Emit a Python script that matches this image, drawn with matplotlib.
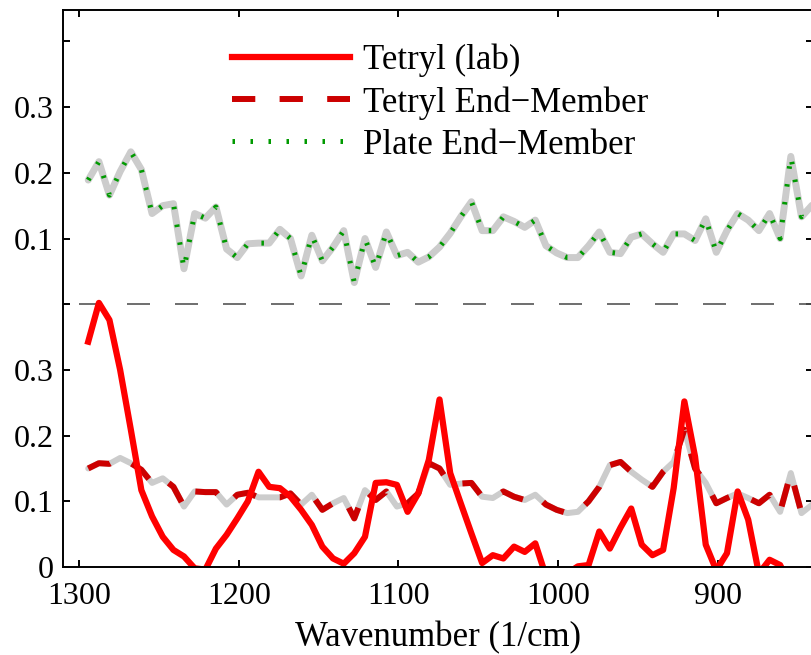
import numpy as np
import matplotlib
matplotlib.use("Agg")
import matplotlib.pyplot as plt

plt.rcParams['font.family'] = ['Liberation Serif', 'DejaVu Serif']

# wavenumber grid (1/cm)
wavenumber = [1294.4, 1287.7, 1281.1, 1274.4, 1267.7, 1261.1, 1254.4, 1247.7, 1241.0, 1234.4,
              1227.7, 1221.0, 1214.4, 1207.7, 1201.0, 1194.4, 1187.7, 1181.0, 1174.3, 1167.7,
              1161.0, 1154.3, 1147.7, 1141.0, 1134.3, 1127.7, 1121.0, 1114.3, 1107.6, 1101.0,
              1094.3, 1087.6, 1081.0, 1074.3, 1067.6, 1061.0, 1054.3, 1047.6, 1040.9, 1034.3,
              1027.6, 1020.9, 1014.3, 1007.6, 1000.9, 994.3, 987.6, 980.9, 974.2, 967.6,
              960.9, 954.2, 947.6, 940.9, 934.2, 927.6, 920.9, 914.2, 907.5, 900.9,
              894.2, 887.5, 880.9, 874.2, 867.5, 860.9, 854.2, 847.5, 840.8]

tetryl_lab = [0.343, 0.402, 0.376, 0.300, 0.209, 0.117, 0.077, 0.046, 0.026, 0.016,
              -0.002, -0.004, 0.028, 0.049, 0.074, 0.100, 0.145, 0.122, 0.120, 0.107,
              0.087, 0.064, 0.031, 0.013, 0.005, 0.021, 0.046, 0.128, 0.129, 0.125,
              0.084, 0.112, 0.163, 0.255, 0.143, 0.097, 0.051, 0.006, 0.018, 0.013,
              0.031, 0.023, 0.036, -0.014, -0.02, -0.01, 0.001, 0.003, 0.054, 0.028,
              0.060, 0.089, 0.034, 0.018, 0.026, 0.120, 0.252, 0.168, 0.034, -0.005,
              0.021, 0.115, 0.072, -0.010, 0.011, 0.003, -0.030, -0.040, -0.030]

tetryl_em = [0.150, 0.158, 0.157, 0.166, 0.158, 0.148, 0.128, 0.135, 0.122, 0.092,
             0.115, 0.114, 0.114, 0.095, 0.110, 0.113, 0.106, 0.106, 0.106, 0.112,
             0.095, 0.110, 0.087, 0.097, 0.105, 0.074, 0.117, 0.102, 0.115, 0.092,
             0.097, 0.112, 0.158, 0.150, 0.125, 0.127, 0.128, 0.107, 0.105, 0.115,
             0.107, 0.102, 0.110, 0.095, 0.087, 0.082, 0.084, 0.100, 0.122, 0.155,
             0.160, 0.145, 0.133, 0.122, 0.145, 0.160, 0.209, 0.150, 0.128, 0.097,
             0.105, 0.112, 0.105, 0.097, 0.110, 0.084, 0.143, 0.082, 0.095]

plate_em = [0.189, 0.217, 0.166, 0.202, 0.232, 0.205, 0.138, 0.150, 0.153, 0.054,
            0.138, 0.131, 0.148, 0.084, 0.071, 0.092, 0.093, 0.093, 0.114, 0.100,
            0.043, 0.105, 0.066, 0.087, 0.112, 0.033, 0.100, 0.056, 0.110, 0.074,
            0.079, 0.064, 0.072, 0.087, 0.108, 0.133, 0.156, 0.112, 0.112, 0.133,
            0.126, 0.117, 0.128, 0.089, 0.078, 0.071, 0.071, 0.089, 0.110, 0.079,
            0.077, 0.102, 0.107, 0.092, 0.079, 0.107, 0.107, 0.097, 0.130, 0.079,
            0.112, 0.138, 0.128, 0.112, 0.138, 0.100, 0.225, 0.133, 0.151]

offset = 0.4
ytick_vals = [0, 0.1, 0.2, 0.3, 0.4, 0.5, 0.6, 0.7, 0.8]
ytick_labels = ['0', '0.1', '0.2', '0.3', '', '0.1', '0.2', '0.3', '']
xtick_vals = [1300, 1200, 1100, 1000, 900]

x = np.array(wavenumber)
top = np.array(plate_em) + offset

fig = plt.figure(figsize=(8.12, 6.55), dpi=100)
ax = fig.add_axes([63/812, 88/655, 750/812, 557.5/655])

gray = (0.8, 0.8, 0.8)
green = '#009a00'
dots = (0, (0.5, 3.1))
# upper panel: plate end-member
ax.plot(x, top, color=gray, lw=5.0, solid_capstyle='round', solid_joinstyle='round')
ax.plot(x, top, color=green, lw=3.6, linestyle=dots)

# separator
ax.plot([1300, 800], [offset, offset], color='#555555', lw=1.2, linestyle=(0, (13.8, 15)))

# lower panel
ax.plot(x, tetryl_em, color=gray, lw=4.3, solid_capstyle='round', solid_joinstyle='round')
l2, = ax.plot(x, tetryl_em, color='#cc0000', lw=4.3, linestyle=(0, (3.9, 4.07)),
              label='Tetryl End\u2212Member')
l1, = ax.plot(x, tetryl_lab, color='#ff0000', lw=4.5, label='Tetryl (lab)')
l3, = ax.plot([], [], color=green, lw=3.6, linestyle=dots,
              label='Plate End\u2212Member')

ax.set_xlim(1310.2, 840.3)
ax.set_ylim(0, 0.8486)
ax.set_xticks(xtick_vals)
ax.set_yticks(ytick_vals)
ax.set_yticklabels(ytick_labels)
ax.tick_params(direction='in', top=True, right=True, length=4.8, width=1.4, labelsize=23)
ax.tick_params(axis='x', pad=11)
ax.tick_params(axis='y', pad=7)
for s in ax.spines.values():
    s.set_linewidth(1.4)
ax.set_xlabel('Wavenumber (1/cm)', fontsize=25, labelpad=7)

ax.legend(handles=[l1, l2, l3], loc='upper left', bbox_to_anchor=(0.2253, 0.939),
          frameon=False, fontsize=25, handlelength=3.4, handletextpad=0.37,
          labelspacing=0.26, borderpad=0, borderaxespad=0)

fig.savefig('out.png', dpi=100)
